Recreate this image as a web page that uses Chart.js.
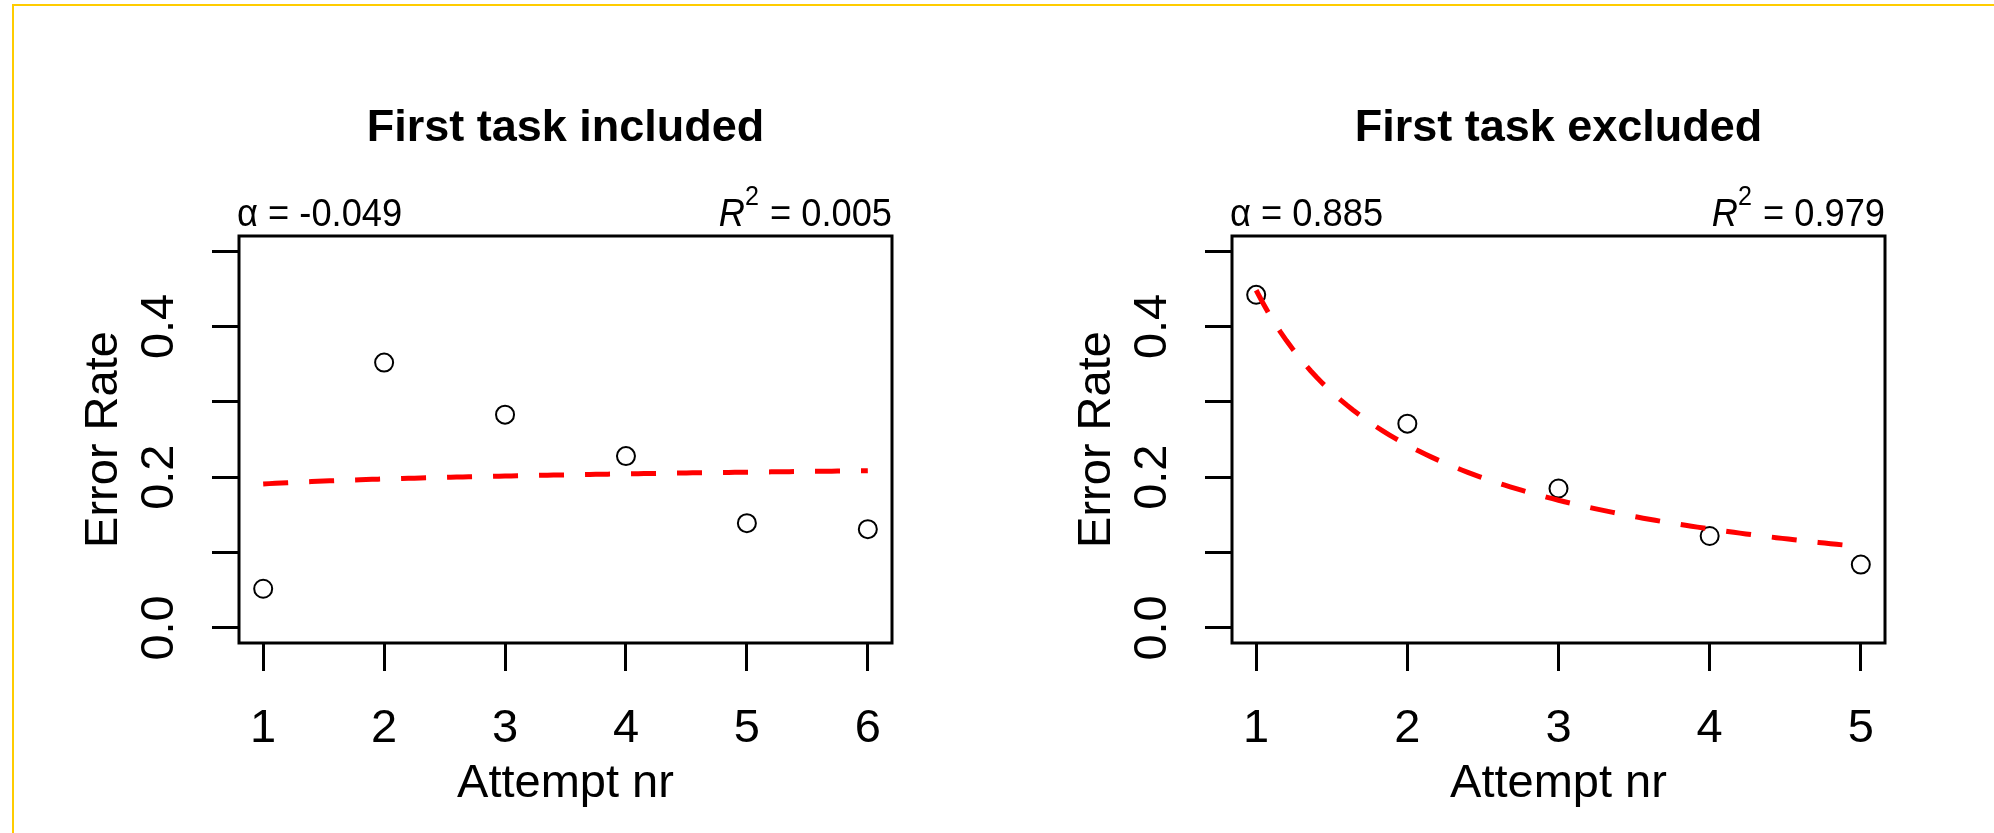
<!DOCTYPE html>
<html>
<head>
<meta charset="utf-8">
<title>Error rate per attempt</title>
<script src="https://cdn.jsdelivr.net/npm/chart.js@4.4.1/dist/chart.umd.min.js"></script>
<style>
    html, body { margin: 0; padding: 0; background: #fff; }
    body { width: 1994px; height: 833px; position: relative; overflow: hidden; }
    .frame {
        position: absolute; left: 12px; top: 4px; right: 0; bottom: 0;
        border-top: 2px solid #ffcc00; border-left: 2px solid #ffcc00;
    }
    canvas { position: absolute; top: 0; }
    #chartIncluded { left: 0; }
    #chartExcluded { left: 997px; }
</style>
</head>
<body>
<div class="frame"></div>
<canvas id="chartIncluded" width="997" height="833"></canvas>
<canvas id="chartExcluded" width="997" height="833"></canvas>
<script>
// Observed error rate per attempt
const attemptsIncluded = [1, 2, 3, 4, 5, 6];
const errorIncluded = [0.052, 0.352, 0.283, 0.228, 0.139, 0.131];
const attemptsExcluded = [1, 2, 3, 4, 5];
const errorExcluded = [0.442, 0.271, 0.185, 0.122, 0.084];

// Power-law fits: rate = c * attempt^(-alpha)
const alphaIncluded = -0.049;
const r2Included = 0.005;
const fitScaleIncluded = 0.191;
const alphaExcluded = 0.885;
const r2Excluded = 0.979;
const fitScaleExcluded = 0.448;

// Axis ticks
const yTicks = [0, 0.1, 0.2, 0.3, 0.4, 0.5];
const yTickLabels = ['0.0', '', '0.2', '', '0.4', ''];

const NARROW = '"Liberation Sans Narrow", "Arial Narrow", "Liberation Sans", sans-serif';
const NOTE_SQUEEZE = 0.93; // the alpha / R^2 notes are set a little condensed

function fitCurve(scale, alpha, xFrom, xTo) {
    const pts = [];
    const n = 100;
    for (let i = 0; i <= n; i++) {
        const x = xFrom + (xTo - xFrom) * i / n;
        pts.push({ x: x, y: scale * Math.pow(x, -alpha) });
    }
    return pts;
}

function squeezedText(ctx, text, x, y) {
    ctx.save();
    ctx.translate(x, y);
    ctx.scale(NOTE_SQUEEZE, 1);
    ctx.fillText(text, 0, 0);
    ctx.restore();
}

// Frame, title, rotated y labels and the alpha / R^2 notes
const panelText = {
    id: 'panelText',
    afterDraw(chart, args, opts) {
        const ctx = chart.ctx;
        const area = chart.chartArea;
        const yScale = chart.scales.y;
        ctx.save();
        ctx.strokeStyle = '#000';
        ctx.lineWidth = 3;
        ctx.strokeRect(area.left, area.top, area.right - area.left, area.bottom - area.top);

        ctx.fillStyle = '#000';
        ctx.textBaseline = 'alphabetic';
        ctx.font = 'bold 45px "Liberation Sans", Arial, sans-serif';
        ctx.textAlign = 'center';
        ctx.fillText(opts.title, (area.left + area.right) / 2, 141);

        ctx.font = '47px ' + NARROW;
        yTicks.forEach(function(v, i) {
            if (!yTickLabels[i]) return;
            ctx.save();
            ctx.translate(area.left - 66, yScale.getPixelForValue(v));
            ctx.rotate(-Math.PI / 2);
            ctx.textAlign = 'center';
            ctx.fillText(yTickLabels[i], 0, 0);
            ctx.restore();
        });

        ctx.textAlign = 'left';
        ctx.font = '39px ' + NARROW;
        squeezedText(ctx, '\u03B1 = ' + opts.alpha.toFixed(3), area.left - 2, 226);

        // R^2 note, laid out right to left from the box edge
        const rest = ' = ' + opts.r2.toFixed(3);
        let x = area.right - ctx.measureText(rest).width * NOTE_SQUEEZE;
        squeezedText(ctx, rest, x, 226);
        ctx.font = '27px ' + NARROW;
        x -= (ctx.measureText('2').width + 1) * NOTE_SQUEEZE;
        squeezedText(ctx, '2', x, 205);
        ctx.font = 'italic 39px ' + NARROW;
        x -= ctx.measureText('R').width * NOTE_SQUEEZE;
        squeezedText(ctx, 'R', x, 226);
        ctx.restore();
    }
};

function makePanel(canvasId, cfg) {
    const points = cfg.attempts.map(function(a, i) {
        return { x: a, y: cfg.errors[i] };
    });
    const last = cfg.attempts[cfg.attempts.length - 1];
    const pad = (last - 1) * 0.04;

    return new Chart(document.getElementById(canvasId), {
        type: 'scatter',
        data: {
            datasets: [{
                label: 'Fit',
                data: fitCurve(cfg.fitScale, cfg.alpha, 1, last),
                showLine: true,
                borderColor: '#ff0000',
                borderWidth: 5,
                borderDash: [25, 21],
                borderCapStyle: 'butt',
                pointRadius: 0,
                tension: 0,
                order: 1
            }, {
                label: 'Error rate',
                data: points,
                pointStyle: 'circle',
                pointRadius: 9,
                pointBorderWidth: 2,
                pointBorderColor: '#000',
                pointBackgroundColor: 'rgba(0,0,0,0)',
                order: 2
            }]
        },
        options: {
            responsive: false,
            animation: false,
            devicePixelRatio: 1,
            layout: {
                padding: { left: 0, right: cfg.padRight, top: 236, bottom: 0 }
            },
            plugins: {
                legend: { display: false },
                tooltip: { enabled: false },
                panelText: { title: cfg.title, alpha: cfg.alpha, r2: cfg.r2 }
            },
            scales: {
                x: {
                    type: 'linear',
                    position: 'bottom',
                    min: 1 - pad,
                    max: last + pad,
                    afterBuildTicks: function(scale) {
                        scale.ticks = cfg.attempts.map(function(v) { return { value: v }; });
                    },
                    afterFit: function(scale) { scale.height = 190; },
                    border: { display: false },
                    grid: {
                        drawOnChartArea: false,
                        drawTicks: true,
                        tickLength: 28,
                        tickWidth: 3,
                        tickColor: '#000'
                    },
                    ticks: {
                        padding: 30,
                        color: '#000',
                        font: { family: NARROW, size: 47 },
                        maxRotation: 0,
                        callback: function(v) { return String(v); }
                    },
                    title: {
                        display: true,
                        text: 'Attempt nr',
                        color: '#000',
                        font: { family: NARROW, size: 47 },
                        padding: { top: 0, bottom: 21 }
                    }
                },
                y: {
                    type: 'linear',
                    position: 'left',
                    min: -0.02,
                    max: 0.52,
                    afterBuildTicks: function(scale) {
                        scale.ticks = yTicks.map(function(v) { return { value: v }; });
                    },
                    afterFit: function(scale) { scale.width = cfg.yWidth; },
                    border: { display: false },
                    grid: {
                        drawOnChartArea: false,
                        drawTicks: true,
                        tickLength: 27,
                        tickWidth: 3,
                        tickColor: '#000'
                    },
                    ticks: { display: false },
                    title: {
                        display: true,
                        text: 'Error Rate',
                        color: '#000',
                        font: { family: NARROW, size: 47 },
                        padding: { top: cfg.yWidth - 135 - 28, bottom: 0 }
                    }
                }
            }
        },
        plugins: [panelText]
    });
}

makePanel('chartIncluded', {
    title: 'First task included',
    attempts: attemptsIncluded,
    errors: errorIncluded,
    alpha: alphaIncluded,
    r2: r2Included,
    fitScale: fitScaleIncluded,
    yWidth: 239,
    padRight: 105
});

makePanel('chartExcluded', {
    title: 'First task excluded',
    attempts: attemptsExcluded,
    errors: errorExcluded,
    alpha: alphaExcluded,
    r2: r2Excluded,
    fitScale: fitScaleExcluded,
    yWidth: 235,
    padRight: 109
});
</script>
</body>
</html>
